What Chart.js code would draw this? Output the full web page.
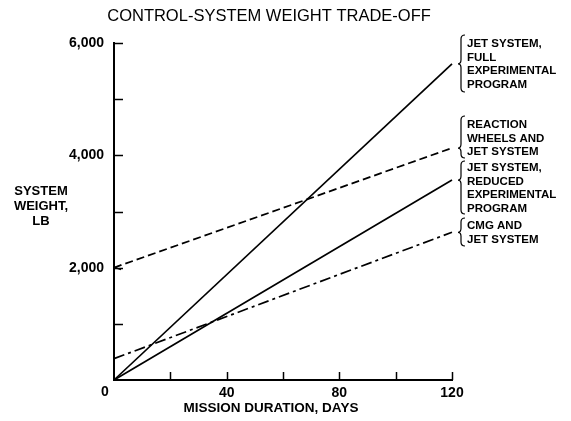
<!DOCTYPE html>
<html>
<head>
<meta charset="utf-8">
<script src="https://cdn.jsdelivr.net/npm/chart.js@4.4.1/dist/chart.umd.min.js"></script>
<style>
  html, body { margin: 0; padding: 0; background: #fff; }
  #wrap { position: relative; width: 571px; height: 421px; }
</style>
</head>
<body>
<div id="wrap"><canvas id="chart" width="571" height="421"></canvas></div>
<script>
// values (days, lb)
const days = [0, 120];
const jetFull = [0, 5630];
const reactionWheels = [2000, 4130];
const jetReduced = [0, 3560];
const cmgJet = [380, 2630];

const xTickStep = 20;
const yTickStep = 1000;

const chartTitle = 'CONTROL-SYSTEM WEIGHT TRADE-OFF';
const xTitle = 'MISSION DURATION, DAYS';
const yTitle = ['SYSTEM', 'WEIGHT,', 'LB'];

const seriesLabels = [
    ['JET SYSTEM,', 'FULL', 'EXPERIMENTAL', 'PROGRAM'],
    ['REACTION', 'WHEELS AND', 'JET SYSTEM'],
    ['JET SYSTEM,', 'REDUCED', 'EXPERIMENTAL', 'PROGRAM'],
    ['CMG AND', 'JET SYSTEM']
];

const FONT = '"Liberation Sans", Arial, sans-serif';
const pts = ys => days.map((d, i) => ({ x: d, y: ys[i] }));

// label block layout: first text line centre y, and brace top/bottom
const blocks = [
    { y0: 44, top: 35, bottom: 92 },
    { y0: 125, top: 116, bottom: 158 },
    { y0: 168, top: 161, bottom: 214 },
    { y0: 226, top: 218, bottom: 246 }
];
const lineGap = 13.6;

function brace(ctx, x, top, bottom, tipY) {
    ctx.beginPath();
    ctx.moveTo(x + 4, top);
    ctx.quadraticCurveTo(x, top, x, top + 4);
    ctx.lineTo(x, tipY - 4);
    ctx.quadraticCurveTo(x, tipY, x - 3, tipY);
    ctx.quadraticCurveTo(x, tipY, x, tipY + 4);
    ctx.lineTo(x, bottom - 4);
    ctx.quadraticCurveTo(x, bottom, x + 4, bottom);
    ctx.stroke();
}

const decor = {
    id: 'decor',
    afterDraw(chart) {
        const ctx = chart.ctx;
        const xs = chart.scales.x, ys = chart.scales.y;
        const x0 = xs.getPixelForValue(0), y0 = ys.getPixelForValue(0);
        ctx.save();
        ctx.strokeStyle = '#000';
        ctx.fillStyle = '#000';

        // inward tick marks
        ctx.lineWidth = 1.5;
        for (let v = xTickStep; v <= xs.max; v += xTickStep) {
            const px = Math.round(xs.getPixelForValue(v)) + 0.5;
            ctx.beginPath(); ctx.moveTo(px, y0); ctx.lineTo(px, y0 - 8); ctx.stroke();
        }
        for (let v = yTickStep; v <= ys.max; v += yTickStep) {
            const py = Math.round(ys.getPixelForValue(v)) + 0.5;
            ctx.beginPath(); ctx.moveTo(x0, py); ctx.lineTo(x0 + 9, py); ctx.stroke();
        }

        // small arrow where the reaction-wheel line leaves the axis
        const ay = ys.getPixelForValue(reactionWheels[0]);
        ctx.lineWidth = 1.2;
        ctx.beginPath();
        ctx.moveTo(x0 + 7, ay - 3); ctx.lineTo(x0 + 1, ay); ctx.lineTo(x0 + 7, ay + 2);
        ctx.stroke();

        // shared origin label
        ctx.font = 'bold 14px ' + FONT;
        ctx.textAlign = 'center';
        ctx.textBaseline = 'middle';
        ctx.fillText('0', x0 - 9, y0 + 12);

        // title
        ctx.font = '16.5px ' + FONT;
        ctx.fillText(chartTitle, 269, 16);

        // axis titles
        ctx.font = 'bold 13.5px ' + FONT;
        ctx.fillText(xTitle, 271, 408);
        ctx.font = 'bold 13px ' + FONT;
        yTitle.forEach((t, i) => ctx.fillText(t, 41, 191 + i * 15));

        // series labels with braces
        const ends = [jetFull, reactionWheels, jetReduced, cmgJet]
            .map(s => ys.getPixelForValue(s[s.length - 1]));
        ctx.font = 'bold 11.5px ' + FONT;
        ctx.textAlign = 'left';
        ctx.lineWidth = 1.2;
        blocks.forEach((b, i) => {
            seriesLabels[i].forEach((t, k) => ctx.fillText(t, 467, b.y0 + k * lineGap));
            brace(ctx, 461, b.top, b.bottom, ends[i]);
        });
        ctx.restore();
    }
};

new Chart(document.getElementById('chart'), {
    type: 'line',
    data: {
        datasets: [
            { label: 'Jet system, full experimental program', data: pts(jetFull),
              borderColor: '#000', borderWidth: 1.7, pointRadius: 0, clip: false },
            { label: 'Reaction wheels and jet system', data: pts(reactionWheels),
              borderColor: '#000', borderWidth: 1.7, borderDash: [8, 4], pointRadius: 0, clip: false },
            { label: 'Jet system, reduced experimental program', data: pts(jetReduced),
              borderColor: '#000', borderWidth: 1.7, pointRadius: 0, clip: false },
            { label: 'CMG and jet system', data: pts(cmgJet),
              borderColor: '#000', borderWidth: 1.7, borderDash: [11, 4, 3, 4], pointRadius: 0, clip: false }
        ]
    },
    options: {
        responsive: false,
        animation: false,
        layout: { padding: { left: 0, top: 43, right: 119, bottom: 0 } },
        plugins: { legend: { display: false }, tooltip: { enabled: false }, title: { display: false } },
        scales: {
            x: {
                type: 'linear', min: 0, max: 120,
                afterFit: s => { s.height = 41; },
                grid: { display: false, drawTicks: false },
                border: { display: true, color: '#000', width: 2 },
                ticks: {
                    stepSize: 40, padding: 5, color: '#000',
                    font: { family: FONT, size: 14, weight: 'bold' },
                    callback: v => v === 0 ? '' : String(v)
                }
            },
            y: {
                min: 0, max: 6000,
                afterFit: s => { s.width = 114; },
                grid: { display: false, drawTicks: false },
                border: { display: true, color: '#000', width: 2 },
                ticks: {
                    stepSize: 2000, padding: 10, color: '#000',
                    font: { family: FONT, size: 14, weight: 'bold' },
                    callback: v => v === 0 ? '' : v.toLocaleString('en-US')
                }
            }
        }
    },
    plugins: [decor]
});
</script>
</body>
</html>
